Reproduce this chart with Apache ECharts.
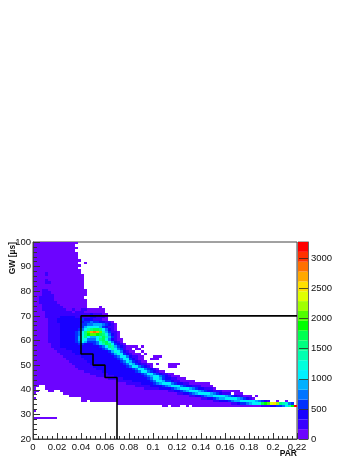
<!DOCTYPE html>
<html>
<head>
<meta charset="utf-8">
<style>html,body{margin:0;padding:0;background:#fff}#c{width:357px;height:462px}</style>
<script src="https://cdn.jsdelivr.net/npm/echarts@6/dist/echarts.min.js"></script>
</head>
<body>
<div id="c"></div>
<script>
// Colour levels, bottom to top of the palette bar
const palette = ['#6c04ff','#3800ff','#1800ff','#0030ff','#0074ff','#00b0ff','#00f0ff','#00ffdc','#00ffb0','#00ff80',
  '#00ff50','#00ff00','#50ff00','#a0ff00','#e0ff00','#ffe000','#ffa800','#ff7000','#ff3000','#ff0000'];
const levelStep = 163.5;
const binWidth = 0.0025;
const xTicks = [0, 0.22];
const yTicks = [20, 100];
const zTicks = [0, 3270];
// Rows: [GW bin, runs of "level*count", "_" = empty bins]
const gwRows = [
[99,'0*15'],[98,'0*14'],[97,'0*15'],[96,'0*14'],[95,'0*15'],[94,'0*15'],[93,'0*15'],[92,'0*16'],
[91,'0*15 _*2 0*1'],[90,'0*16'],[89,'0*15'],[88,'0*16'],
[87,'0*4 1*1 0*11'],[86,'0*4 1*1 0*12'],[85,'0*17'],[84,'0*4 1*1 0*12'],[83,'0*4 1*2 0*11'],[82,'0*17'],[81,'0*17'],
[80,'0*3 1*2 0*13'],[79,'0*3 1*3 0*12'],[78,'0*3 1*4 0*11'],[77,'0*2 1*5 0*10'],[76,'0*2 1*5 0*11'],
[75,'0*2 1*6 0*10'],[74,'0*3 1*6 0*9'],[73,'0*3 1*7 0*8 _*4 0*1'],
[72,'0*3 1*8 0*2 1*1 0*2 1*2 0*6'],[71,'0*4 1*9 0*1 1*3 0*7'],[70,'0*4 1*15 2*1 1*3 0*2'],
[69,'0*4 1*5 2*5 1*5 2*2 1*3 0*1'],[68,'0*5 1*3 2*8 3*1 2*3 1*3 0*2'],
[67,'0*5 1*3 2*9 3*2 4*1 3*2 2*2 1*2 0*1'],
[66,'0*5 1*4 2*7 3*2 4*2 5*3 4*1 3*1 2*1 1*1 0*1'],
[65,'0*5 1*4 2*7 3*1 5*1 6*4 5*1 3*1 2*1 1*2 0*1'],
[64,'0*5 1*4 2*6 3*1 4*1 6*1 8*1 9*1 10*2 9*1 6*1 4*1 2*1 1*1 0*1'],
[63,'0*5 1*4 2*5 3*1 4*1 6*1 9*1 12*1 16*1 17*1 16*1 12*1 8*1 5*1 3*1 1*2 0*1'],
[62,'0*5 1*4 2*5 3*1 4*1 6*1 9*1 11*1 12*2 11*1 10*1 9*1 7*1 4*1 2*1 1*1 0*1'],
[61,'0*5 1*4 2*5 3*1 5*1 7*1 9*1 6*1 5*2 6*1 8*1 10*1 8*1 5*1 3*1 1*1 0*1'],
[60,'0*5 1*4 2*5 3*1 5*1 7*1 6*1 4*3 6*1 9*1 10*1 7*1 4*1 2*1 1*1 0*2'],
[59,'0*5 1*4 2*5 3*1 4*1 6*1 5*1 3*3 4*1 7*1 9*1 10*1 7*1 4*1 2*1 1*1 0*1'],
[58,'0*6 1*3 2*6 3*2 2*3 3*1 4*1 6*1 8*1 10*1 9*1 6*1 3*1 2*1 1*1 0*1'],
[57,'0*6 1*3 2*13 3*1 4*1 6*1 9*1 8*1 5*1 3*1 2*1 1*1 0*1 0*3 _*1 0*1'],
[56,'0*7 1*4 2*12 3*1 4*1 6*1 8*1 6*1 4*1 3*1 1*1 0*2 _*1 0*2'],
[55,'0*8 1*5 2*11 2*1 3*1 5*1 7*1 6*1 4*1 2*1 1*1 0*2 _*2 0*1'],
[54,'0*9 1*5 2*11 2*1 3*1 5*1 7*1 6*1 3*1 2*1 1*1 0*3 _*1 0*1'],
[53,'0*10 1*6 2*11 3*1 4*1 6*1 6*1 4*1 2*1 1*1 1*1 0*2 _*3 0*3'],
[52,'0*11 1*6 2*11 3*1 4*1 6*1 6*1 3*1 2*1 1*1 0*2 _*2 0*3'],
[51,'0*12 1*6 2*11 3*1 4*1 6*1 5*1 3*1 2*1 1*1 0*2'],
[50,'0*13 1*6 2*11 3*1 4*1 6*1 5*1 3*1 2*1 1*2 0*2 _*1 0*1 _*3 0*4'],
[49,'0*14 1*6 2*11 3*1 4*1 6*2 4*1 3*1 2*1 1*1 0*1 _*5 0*3'],
[48,'0*15 1*6 2*11 2*1 3*1 4*1 6*2 4*1 3*1 2*1 1*1 0*1'],
[47,'0*17 1*6 2*10 2*1 3*1 4*1 6*2 4*1 3*1 2*1 1*1 0*2'],
[46,'0*19 1*6 2*10 2*1 3*1 4*1 6*2 4*1 3*1 2*1 1*2 0*2'],
[45,'0*21 1*6 2*9 2*1 3*1 4*1 5*1 6*2 4*1 3*1 2*1 1*1 0*3'],
[44,'0*25 1*5 2*7 2*1 3*1 4*1 6*2 5*1 3*1 2*2 1*2 0*3'],
[43,'0*28 1*5 2*5 2*1 3*1 4*1 6*2 5*1 3*2 2*1 1*2 0*5'],
[42,'0*31 1*5 2*3 2*1 3*1 4*1 5*1 6*3 4*1 3*1 2*2 1*2 0*7'],
[41,'0*2 _*2 0*30 1*5 2*3 2*1 3*1 4*1 5*1 6*3 4*1 3*1 2*2 1*3 0*4'],
[40,'0*1 _*3 0*33 1*5 2*3 2*1 3*1 4*1 5*1 6*3 5*1 4*1 3*1 2*2 1*3 0*1'],
[39,'0*2 _*3 0*2 _*2 0*36 1*2 2*1 2*1 3*1 4*1 5*1 6*3 5*1 4*1 3*1 2*2 1*3 0*6'],
[38,'0*1 _*9 0*38 1*2 2*1 2*1 3*1 4*1 5*1 6*4 5*1 4*1 3*1 2*1 1*3 _*1 0*3'],
[37,'_*12 0*40 1*2 2*1 2*1 3*1 4*1 5*2 6*4 5*1 4*1 3*1 2*1 1*2 0*3 _*1 0*1'],
[36,'0*1 _*15 0*40 1*2 2*1 2*1 3*1 4*1 5*2 6*4 5*1 4*1 3*1 2*1 1*1 0*1'],
[35,'_*16 0*2 _*1 0*41 1*2 2*2 2*1 3*1 4*1 5*2 6*5 5*1 4*1 3*1 2*1 1*1 _*2 0*1 _*2 0*1'],
[34,'_*28 0*38 1*2 2*1 3*2 4*1 5*1 6*2 7*1 10*1 11*1 12*1 14*1 15*1 13*1 9*1 8*1 7*1 4*1 3*1'],
[33,'_*43 0*2 _*1 0*3 _*2 0*1 _*1 0*23 1*3 2*2 3*2 4*1 6*1 8*1 11*1 19*1'],
[31,'0*1'],
[28,'0*8']
];
// Cut-line vertices: PAR and GW
const cutPar = [0.22, 0.04, 0.04, 0.05, 0.05, 0.06, 0.06, 0.07, 0.07];
const cutGw  = [70, 70, 54.5, 54.5, 50, 50, 45, 45, 20];

const cells = [];
gwRows.forEach(([gw, runs]) => {
  let bin = 0;
  runs.split(' ').forEach(tok => {
    const [lv, n] = tok.split('*');
    for (let k = 0; k < +n; k++, bin++) {
      if (lv !== '_') cells.push([bin * binWidth, gw, (+lv + 0.5) * levelStep]);
    }
  });
});

const font = {fontFamily: '"Liberation Sans", Arial, sans-serif', fontSize: 9.5, color: '#111'};
const chart = echarts.init(document.getElementById('c'), null, {renderer: 'canvas'});
const barSeries = palette.map(c => ({
  type: 'bar', stack: 'z', xAxisIndex: 1, yAxisIndex: 1, barWidth: '100%', silent: true,
  itemStyle: {color: c}, data: [levelStep], animation: false
}));
chart.setOption({
  animation: false,
  backgroundColor: '#fff',
  grid: [
    {left: 33, top: 242, width: 264, height: 197, show: true, borderColor: '#444', borderWidth: 1, backgroundColor: 'transparent'},
    {left: 298, top: 242, width: 10, height: 197, show: true, borderColor: '#666', borderWidth: 1}
  ],
  xAxis: [
    {type: 'value', gridIndex: 0, min: xTicks[0], max: xTicks[1], interval: 0.02, z: 5,
     name: 'PAR', nameLocation: 'end', nameGap: 0, nameMoveOverlap: false,
     nameTextStyle: {fontFamily: font.fontFamily, fontSize: 8.5, fontWeight: 'bold', color: '#111', align: 'right', verticalAlign: 'top', padding: [10, 0, 0, 0]},
     axisLine: {show: true, lineStyle: {color: '#444', width: 1}},
     axisTick: {show: true, inside: true, length: 6, lineStyle: {color: '#333'}},
     minorTick: {show: true, splitNumber: 5, length: 3, lineStyle: {color: '#333'}},
     splitLine: {show: false},
     axisLabel: Object.assign({margin: 3, hideOverlap: false}, font)},
    {type: 'category', gridIndex: 1, data: [''], show: false}
  ],
  yAxis: [
    {type: 'value', gridIndex: 0, min: yTicks[0], max: yTicks[1], interval: 10, z: 5,
     name: 'GW [\u00b5s]', nameLocation: 'end', nameRotate: 90, nameGap: 0, nameMoveOverlap: false,
     nameTextStyle: {fontFamily: font.fontFamily, fontSize: 8.5, fontWeight: 'bold', color: '#111', align: 'right', verticalAlign: 'bottom', padding: [0, 0, 16, 0]},
     axisLine: {show: true, lineStyle: {color: '#444', width: 1}},
     axisTick: {show: true, inside: true, length: 7, lineStyle: {color: '#333'}},
     minorTick: {show: true, splitNumber: 5, length: 4, lineStyle: {color: '#333'}},
     splitLine: {show: false},
     axisLabel: Object.assign({margin: 2}, font)},
    {type: 'value', gridIndex: 1, position: 'right', min: zTicks[0], max: zTicks[1], interval: 500, z: 5,
     axisLine: {show: true, lineStyle: {color: '#666', width: 1}},
     axisTick: {show: true, inside: true, length: 9, lineStyle: {color: '#222', opacity: 0.75}},
     splitLine: {show: false},
     axisLabel: Object.assign({margin: 3, showMaxLabel: false, formatter: v => String(v)}, font)}
  ],
  series: [
    {
      type: 'custom', xAxisIndex: 0, yAxisIndex: 0, silent: true, clip: true,
      encode: {x: 0, y: 1},
      data: cells,
      renderItem(params, api) {
        const x = api.value(0), y = api.value(1);
        const a = api.coord([x, y + 1]), b = api.coord([x + binWidth, y]);
        const x0 = Math.round(a[0]), x1 = Math.round(b[0]), y0 = Math.round(a[1]), y1 = Math.round(b[1]);
        return {type: 'rect', shape: {x: x0, y: y0, width: x1 - x0, height: y1 - y0},
                style: {fill: palette[Math.floor(api.value(2) / levelStep)]}};
      }
    },
    {
      type: 'line', xAxisIndex: 0, yAxisIndex: 0, silent: true, symbol: 'none', z: 4,
      lineStyle: {color: '#000', width: 1.6},
      data: cutPar.map((p, i) => [p, cutGw[i]])
    },
    ...barSeries
  ]
});
</script>
</body>
</html>
